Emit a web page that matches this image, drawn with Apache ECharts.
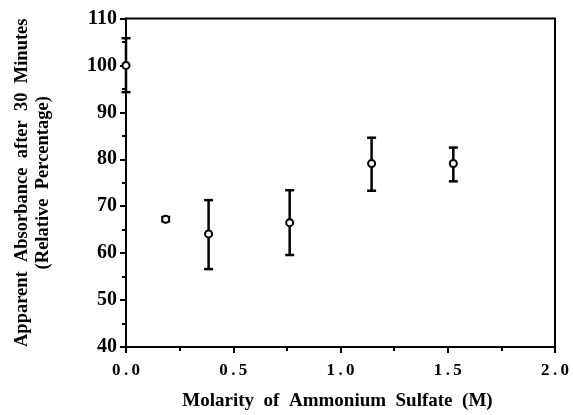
<!DOCTYPE html>
<html>
<head>
<meta charset="utf-8">
<script src="https://cdn.jsdelivr.net/npm/echarts@6/dist/echarts.min.js"></script>
<style>html,body{margin:0;padding:0;background:#fff}#c{width:573px;height:415px}</style>
</head>
<body>
<div id="c"></div>
<script>
const molarity = [0.0, 0.185, 0.385, 0.763, 1.145, 1.526];
const absorbance = [100.0, 67.2, 64.1, 66.5, 79.1, 79.1];
const errLow = [94.3, 66.8, 56.6, 59.6, 73.3, 75.3];
const errHigh = [105.8, 67.7, 71.3, 73.4, 84.6, 82.5];
const xTicks = [0, 0.5, 1.0, 1.5, 2.0];
const yTicks = [40, 50, 60, 70, 80, 90, 100, 110];

const FONT = '"Liberation Serif", "Times New Roman", serif';
const chart = echarts.init(document.getElementById('c'), null, {renderer: 'canvas'});
const pts = molarity.map((m, i) => [m, absorbance[i]]);
const errs = molarity.map((m, i) => [m, errLow[i], errHigh[i]]);
function spaced(s) { return s.split('').join('\u2009'); }
chart.setOption({
  animation: false,
  backgroundColor: '#fff',
  grid: {left: 126, right: 18, top: 18.5, bottom: 68, show: true, borderColor: '#000', borderWidth: 2,
    backgroundColor: 'transparent', containLabel: false, outerBoundsMode: 'none'},
  xAxis: {
    type: 'value', min: 0, max: 2, interval: 0.5,
    name: 'Molarity  of  Ammonium  Sulfate  (M)',
    nameLocation: 'middle', nameGap: 45,
    nameTextStyle: {fontFamily: FONT, fontWeight: 'bold', fontSize: 19, color: '#000', padding: [0, 6, 0, 0]},
    axisLine: {lineStyle: {color: '#000', width: 2}},
    axisTick: {length: 6, lineStyle: {color: '#000', width: 2}},
    minorTick: {show: true, splitNumber: 2, length: 4, lineStyle: {color: '#000', width: 2}},
    splitLine: {show: false},
    axisLabel: {margin: 15, fontFamily: FONT, fontWeight: 'bold', fontSize: 17, color: '#000',
      formatter: v => spaced(v.toFixed(1))}
  },
  yAxis: {
    type: 'value', min: 40, max: 110, interval: 10,
    name: 'Apparent  Absorbance  after  30  Minutes\n(Relative  Percentage)',
    nameLocation: 'middle', nameGap: 72,
    nameTextStyle: {fontFamily: FONT, fontWeight: 'bold', fontSize: 18.5, color: '#000', lineHeight: 21, align: 'center'},
    axisLine: {lineStyle: {color: '#000', width: 2}},
    axisTick: {length: 6, lineStyle: {color: '#000', width: 2}},
    minorTick: {show: true, splitNumber: 2, length: 4, lineStyle: {color: '#000', width: 2}},
    splitLine: {show: false},
    axisLabel: {margin: 9, fontFamily: FONT, fontWeight: 'bold', fontSize: 20, color: '#000'}
  },
  series: [
    {
      type: 'custom',
      data: errs,
      z: 2,
      renderItem: function (params, api) {
        const x = api.value(0);
        const lo = api.coord([x, api.value(1)]);
        const hi = api.coord([x, api.value(2)]);
        const hw = 4.5;
        const st = {stroke: '#000', lineWidth: 2.5};
        return {type: 'group', children: [
          {type: 'line', shape: {x1: lo[0], y1: lo[1], x2: hi[0], y2: hi[1]}, style: st},
          {type: 'line', shape: {x1: lo[0]-hw, y1: lo[1], x2: lo[0]+hw, y2: lo[1]}, style: st},
          {type: 'line', shape: {x1: hi[0]-hw, y1: hi[1], x2: hi[0]+hw, y2: hi[1]}, style: st}
        ]};
      }
    },
    {
      type: 'scatter', data: pts, z: 3,
      symbol: 'circle', symbolSize: 7,
      itemStyle: {color: '#fff', borderColor: '#000', borderWidth: 2, opacity: 1}
    }
  ]
});
</script>
</body>
</html>
